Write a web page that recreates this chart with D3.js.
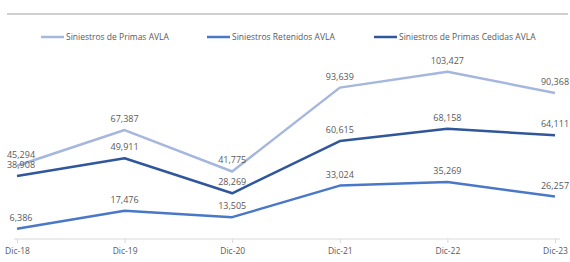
<!DOCTYPE html>
<html>
<head>
<meta charset="utf-8">
<script src="https://cdn.jsdelivr.net/npm/d3@7"></script>
<style>
  body { margin: 0; background: #fff; }
  text { font-family: "Open Sans", "Noto Sans", sans-serif; fill: #595959; }
</style>
</head>
<body>
<div id="chart"></div>
<script>
var svgWidth = 570;
var svgHeight = 262;

var categories = ["Dic-18", "Dic-19", "Dic-20", "Dic-21", "Dic-22", "Dic-23"];
var seriesNames = ["Siniestros de Primas AVLA", "Siniestros Retenidos AVLA", "Siniestros de Primas Cedidas AVLA"];
var primas = [45294, 67387, 41775, 93639, 103427, 90368];
var retenidos = [6386, 17476, 13505, 33024, 35269, 26257];
var cedidas = [38908, 49911, 28269, 60615, 68158, 64111];
var colors = ["#a6b7de", "#4a78c8", "#30569b"];

var series = [primas, retenidos, cedidas];

var svg = d3.select("#chart")
    .append("svg")
    .attr("width", svgWidth)
    .attr("height", svgHeight);

// top rule
svg.append("line")
    .attr("x1", 7).attr("x2", 568)
    .attr("y1", 14).attr("y2", 14)
    .attr("stroke", "#bfbfbf")
    .attr("stroke-width", 1.5);

var x = d3.scalePoint()
    .domain(categories)
    .range([17, 555]);

var y = d3.scaleLinear()
    .domain([0, 120000])
    .range([239, 45]);

// axis
var xAxis = svg.append("g")
    .attr("transform", "translate(0,239)")
    .call(d3.axisBottom(x).tickSize(4).tickSizeOuter(0).tickPadding(5));
xAxis.select(".domain").attr("d", "M14,0H560").attr("stroke", "#d9d9d9");
xAxis.selectAll(".tick line").attr("stroke", "#d9d9d9");
xAxis.selectAll(".tick text")
    .style("font-size", "8.5px")
    .style("fill", "#595959")
    .style("font-family", "'Open Sans', sans-serif");

var line = d3.line()
    .x((d, i) => x(categories[i]))
    .y(d => y(d));

series.forEach(function(s, k) {
  svg.append("path")
      .datum(s)
      .attr("fill", "none")
      .attr("stroke", colors[k])
      .attr("stroke-width", 2.5)
      .attr("stroke-linejoin", "round")
      .attr("d", line);
});

series.forEach(function(s, k) {
  svg.selectAll(".lbl" + k)
      .data(s)
      .enter()
      .append("text")
      .attr("x", (d, i) => x(categories[i]) + (i == 0 ? 4 : 0))
      .attr("y", d => y(d) - 8)
      .attr("text-anchor", "middle")
      .style("font-size", "9px")
      .text(d => d3.format(",")(d));
});

// legend
var legendX = [41, 207, 374];
seriesNames.forEach(function(name, k) {
  var g = svg.append("g").attr("transform", `translate(${legendX[k]},37)`);
  g.append("line")
      .attr("x1", 0).attr("x2", 23)
      .attr("stroke", colors[k])
      .attr("stroke-width", 2.5);
  g.append("text")
      .attr("x", 25)
      .attr("y", 3)
      .style("font-size", "8.5px")
      .text(name);
});
</script>
</body>
</html>
